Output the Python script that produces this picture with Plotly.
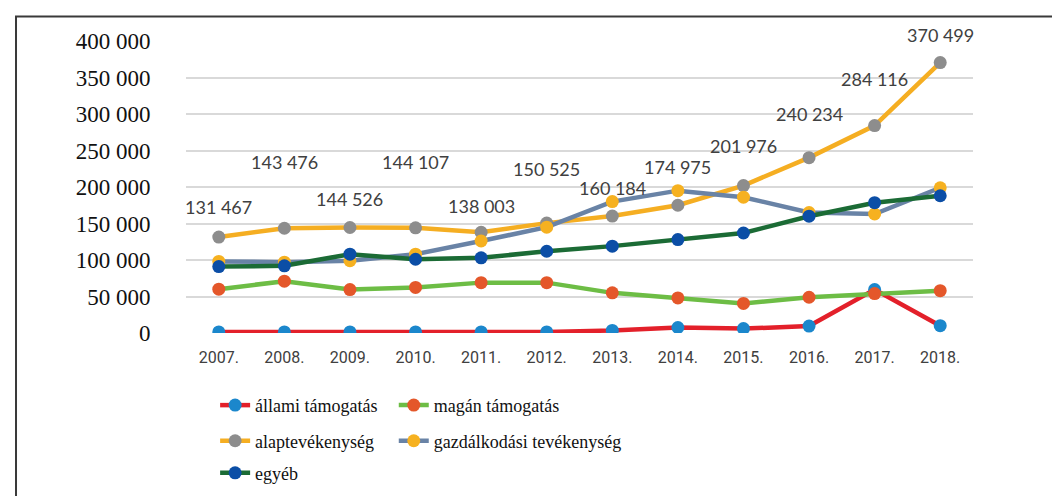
import plotly.graph_objects as go

years = ["2007.", "2008.", "2009.", "2010.", "2011.", "2012.",
         "2013.", "2014.", "2015.", "2016.", "2017.", "2018."]

allami = [1500, 1500, 1500, 1500, 1500, 1500, 3500, 7500, 6000, 9500, 59500, 10000]
magan = [60000, 71000, 59500, 62500, 69000, 69000, 55000, 48000, 40500, 49000, 54000, 58000]
alap = [131467, 143476, 144526, 144107, 138003, 150525,
        160184, 174975, 201976, 240234, 284116, 370499]
gazd = [98000, 97000, 99000, 108000, 126000, 145000, 180000, 195000, 186000, 165000, 163000, 199000]
egyeb = [91000, 92000, 108000, 101000, 103000, 112000, 119000, 128000, 137000, 160000, 178500, 188000]

y_ticks = [0, 50000, 100000, 150000, 200000, 250000, 300000, 350000, 400000]

# pixel offset of each alaptevékenység label above its marker
label_shift = [30, 66, 29, 66, 26, 54, 28, 38, 40, 44, 47, 28]

SERIF = "Liberation Serif, Times New Roman, serif"
NARROW = "Liberation Sans Narrow, Arial Narrow, Roboto, sans-serif"

series = [
    ("állami támogatás", allami, "#e3202a", "#1b87cc", "legend"),
    ("magán támogatás", magan, "#6dbd45", "#e4572a", "legend2"),
    ("alaptevékenység", alap, "#f5ae22", "#8d8d8d", "legend3"),
    ("gazdálkodási tevékenység", gazd, "#6983a6", "#f6b120", "legend4"),
    ("egyéb", egyeb, "#1b6b35", "#0b4ea6", "legend5"),
]

fig = go.Figure()
for name, vals, line_col, mark_col, leg in series:
    fig.add_trace(go.Scatter(
        x=years, y=vals, name=name, mode="lines+markers",
        line=dict(color=line_col, width=4.5),
        marker=dict(color=mark_col, size=13, line=dict(width=0)),
        legend=leg,
    ))

for i, (v, sh) in enumerate(zip(alap, label_shift)):
    fig.add_annotation(
        xref="x", yref="y", x=i, y=v,
        text=f"{v:,}".replace(",", " "), showarrow=False,
        yshift=sh, font=dict(family="Lato, sans-serif", size=18, color="#404040"),
    )

# outer frame
fig.add_shape(type="rect", xref="paper", yref="paper",
              x0=-0.216, x1=1.13, y0=-0.6, y1=1.084,
              line=dict(color="#3a3a3a", width=2))


def leg(x, y):
    return dict(x=x, y=y, orientation="h", xanchor="left", yanchor="middle",
                font=dict(family=SERIF, size=18, color="#111"),
                bgcolor="rgba(0,0,0,0)")


fig.update_layout(
    width=1060, height=496,
    margin=dict(l=178, r=95, t=33, b=165),
    plot_bgcolor="white", paper_bgcolor="white",
    separators=". ",
    showlegend=True,
    legend=leg(0.037, -0.248),
    legend2=leg(0.264, -0.248),
    legend3=leg(0.037, -0.37),
    legend4=leg(0.264, -0.37),
    legend5=leg(0.037, -0.48),
    xaxis=dict(
        type="category", range=[-0.5, 11.5], showgrid=False, zeroline=False,
        showline=False, ticks="outside", ticklen=10, tickcolor="rgba(0,0,0,0)",
        tickfont=dict(family=NARROW, size=16, color="#404040"),
    ),
    yaxis=dict(
        range=[0, 400000], tickvals=y_ticks, tickformat=",d",
        showgrid=True, gridcolor="#d9d9d9", gridwidth=1.5, zeroline=False,
        showline=False, ticks="outside", ticklen=30, tickcolor="rgba(0,0,0,0)",
        tickfont=dict(family=SERIF, size=23, color="#111"),
    ),
)

fig.write_html("out.html")
